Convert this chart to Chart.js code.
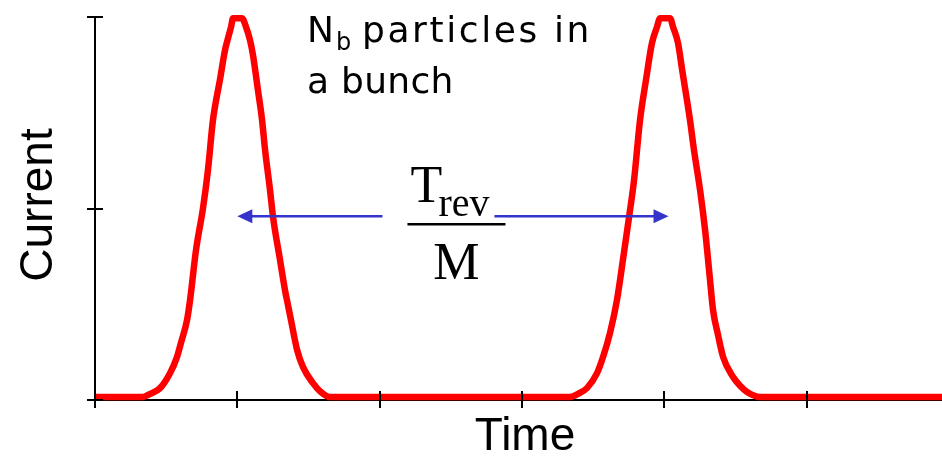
<!DOCTYPE html>
<html>
<head>
<meta charset="utf-8">
<title>Current vs Time</title>
<script src="https://cdn.jsdelivr.net/npm/chart.js@4.4.1/dist/chart.umd.min.js"></script>
<style>
    html, body { margin: 0; padding: 0; background: #fff; }
    canvas { display: block; }
</style>
</head>
<body>
<canvas id="bunches" width="942" height="456"></canvas>
<script>
// time in units of the tick spacing, current normalised to the bunch peak
const timeVals = [
    0, 0.337, 0.387, 0.457, 0.527, 0.576, 0.604, 0.647, 0.668, 0.710, 0.759, 0.794, 0.829,
    0.878, 0.914, 0.935, 0.956, 0.970, 1.033, 1.061, 1.089, 1.110, 1.145, 1.174, 1.195,
    1.230, 1.251, 1.300, 1.335, 1.356, 1.377, 1.420, 1.462, 1.532, 1.581, 1.651,
    3.338, 3.394, 3.457, 3.528, 3.570, 3.619, 3.668, 3.710, 3.753, 3.788, 3.830, 3.872,
    3.914, 3.949, 3.971, 4.041, 4.062, 4.097, 4.126, 4.181, 4.209, 4.252, 4.287, 4.322,
    4.343, 4.378, 4.414, 4.484, 4.533, 4.582, 4.673, 5.952
]
const currentVals = [
    0.008, 0.008, 0.016, 0.031, 0.070, 0.112, 0.149, 0.209, 0.261, 0.392, 0.501, 0.601, 0.731,
    0.836, 0.914, 0.945, 0.974, 0.997, 0.997, 0.974, 0.940, 0.901, 0.809, 0.731, 0.653,
    0.548, 0.478, 0.366, 0.287, 0.248, 0.209, 0.131, 0.086, 0.044, 0.023, 0.008,
    0.008, 0.016, 0.031, 0.070, 0.112, 0.175, 0.261, 0.366, 0.478, 0.574, 0.731, 0.836,
    0.932, 0.974, 0.997, 0.997, 0.974, 0.932, 0.862, 0.731, 0.653, 0.548, 0.444, 0.313,
    0.235, 0.170, 0.112, 0.060, 0.037, 0.021, 0.008, 0.008
]
const timeTicks = [0, 1, 2, 3, 4, 5]
const currentTicks = [0, 0.5, 1]

// bunch centres joined by the spacing arrow, and its height
const bunchCentres = [1.0, 4.03]
const arrowLevel = 0.48
const fractionCentre = 2.54

const points = timeVals.map((t, i) => ({ x: t, y: currentVals[i] }))

const arrowHead = (ctx, x, y, dir) => {
    ctx.beginPath()
    ctx.moveTo(x, y)
    ctx.lineTo(x - dir * 15, y - 7)
    ctx.lineTo(x - dir * 15, y + 7)
    ctx.closePath()
    ctx.fill()
}

const decorations = {
    id: "decorations",
    afterDatasetsDraw(chart) {
        const ctx = chart.ctx
        const xs = chart.scales.x
        const ys = chart.scales.y
        const x0 = xs.getPixelForValue(0)
        const y0 = ys.getPixelForValue(0)

        ctx.save()
        // tick marks crossing the axes
        ctx.strokeStyle = "#000"
        ctx.lineWidth = 2
        ctx.beginPath()
        timeTicks.forEach(t => {
            const px = Math.round(xs.getPixelForValue(t))
            ctx.moveTo(px, y0 - 9)
            ctx.lineTo(px, y0 + 8)
        })
        currentTicks.forEach(v => {
            const py = Math.round(ys.getPixelForValue(v))
            ctx.moveTo(x0 - 8, py)
            ctx.lineTo(x0 + 8, py)
        })
        ctx.stroke()

        // bunch spacing arrows
        const ay = ys.getPixelForValue(arrowLevel)
        const fx = xs.getPixelForValue(fractionCentre)
        const left = xs.getPixelForValue(bunchCentres[0])
        const right = xs.getPixelForValue(bunchCentres[1])
        ctx.strokeStyle = "#3434cc"
        ctx.fillStyle = "#3434cc"
        ctx.lineWidth = 2.5
        ctx.beginPath()
        ctx.moveTo(fx - 74, ay)
        ctx.lineTo(left + 10, ay)
        ctx.moveTo(fx + 38, ay)
        ctx.lineTo(right - 10, ay)
        ctx.stroke()
        arrowHead(ctx, left, ay, -1)
        arrowHead(ctx, right, ay, 1)

        // T_rev / M
        ctx.fillStyle = "#000"
        ctx.textAlign = "left"
        ctx.textBaseline = "alphabetic"
        ctx.font = "52px 'Liberation Serif', 'Times New Roman', serif"
        ctx.fillText("T", fx - 46, 202)
        ctx.font = "40px 'Liberation Serif', 'Times New Roman', serif"
        ctx.fillText("rev", fx - 18, 216)
        ctx.fillRect(fx - 49, 223, 98, 2.5)
        ctx.font = "52px 'Liberation Serif', 'Times New Roman', serif"
        ctx.textAlign = "center"
        ctx.fillText("M", fx, 279)

        // bunch caption
        ctx.textAlign = "left"
        ctx.font = "36px 'DejaVu Sans', sans-serif"
        ctx.fillText("N", 307, 42)
        ctx.font = "24px 'DejaVu Sans', sans-serif"
        ctx.fillText("b", 336, 50)
        ctx.font = "36px 'DejaVu Sans', sans-serif"
        ctx.letterSpacing = "2.6px"
        ctx.fillText("particles in", 362, 42)
        ctx.letterSpacing = "0.3px"
        ctx.fillText("a bunch", 307, 93)
        ctx.letterSpacing = "0px"

        // axis titles
        ctx.font = "46px 'Liberation Sans', Arial, sans-serif"
        ctx.textAlign = "center"
        ctx.fillText("Time", 525, 450)
        ctx.translate(52, 205)
        ctx.rotate(-Math.PI / 2)
        ctx.fillText("Current", 0, 0)
        ctx.restore()
    }
}

new Chart(document.getElementById("bunches"), {
    type: "line",
    data: {
        datasets: [
            {
                label: "Current",
                data: points,
                borderColor: "#ff0000",
                borderWidth: 6.5,
                borderJoinStyle: "round",
                cubicInterpolationMode: "monotone",
                pointRadius: 0,
                fill: false,
                clip: false
            }
        ]
    },
    options: {
        responsive: false,
        animation: false,
        layout: { padding: { left: 95, top: 17, right: 0, bottom: 56 } },
        plugins: {
            legend: { display: false },
            tooltip: { enabled: false }
        },
        scales: {
            x: {
                type: "linear",
                min: 0,
                max: 5.952,
                ticks: { display: false, stepSize: 1 },
                grid: { display: false, drawTicks: false },
                border: { display: true, color: "#000", width: 2 },
                afterFit: scale => { scale.height = 0 }
            },
            y: {
                min: 0,
                max: 1,
                ticks: { display: false, stepSize: 0.5 },
                grid: { display: false, drawTicks: false },
                border: { display: true, color: "#000", width: 2 },
                afterFit: scale => { scale.width = 0 }
            }
        }
    },
    plugins: [decorations]
})
</script>
</body>
</html>
